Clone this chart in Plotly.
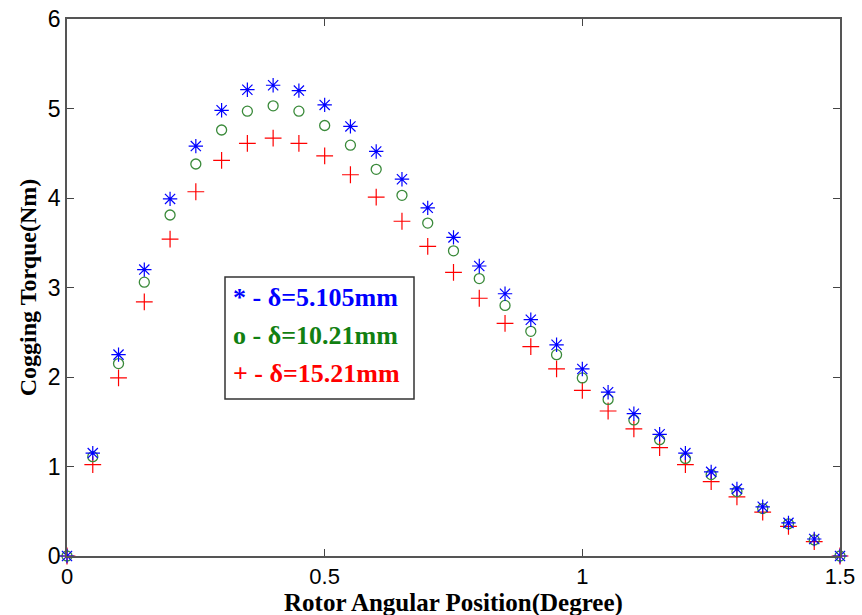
import plotly.graph_objects as go

x_pos = [0, 0.05, 0.1, 0.15, 0.2, 0.25, 0.3, 0.35, 0.4, 0.45, 0.5, 0.55, 0.6, 0.65, 0.7, 0.75,
         0.8, 0.85, 0.9, 0.95, 1.0, 1.05, 1.1, 1.15, 1.2, 1.25, 1.3, 1.35, 1.4, 1.45, 1.5]
torque_5105 = [0, 1.15, 2.25, 3.20, 3.99, 4.58, 4.98, 5.21, 5.26, 5.20, 5.04, 4.80, 4.52, 4.21, 3.89, 3.56,
               3.24, 2.93, 2.64, 2.36, 2.09, 1.83, 1.59, 1.36, 1.15, 0.94, 0.75, 0.55, 0.37, 0.19, 0]
torque_1021 = [0, 1.11, 2.15, 3.06, 3.81, 4.38, 4.76, 4.97, 5.03, 4.97, 4.81, 4.59, 4.32, 4.03, 3.72, 3.41,
               3.10, 2.80, 2.51, 2.25, 1.99, 1.75, 1.52, 1.30, 1.09, 0.91, 0.72, 0.53, 0.36, 0.18, 0]
torque_1521 = [0, 1.02, 1.99, 2.84, 3.54, 4.07, 4.42, 4.61, 4.67, 4.61, 4.47, 4.26, 4.01, 3.74, 3.46, 3.17,
               2.88, 2.60, 2.34, 2.09, 1.85, 1.62, 1.42, 1.21, 1.02, 0.83, 0.66, 0.49, 0.33, 0.16, 0]
x_ticks = [0, 0.5, 1, 1.5]
x_tick_labels = ["0", "0.5", "1", "1.5"]
y_ticks = [0, 1, 2, 3, 4, 5, 6]
y_tick_labels = ["0", "1", "2", "3", "4", "5", "6"]
legend_labels = ["* - δ=5.105mm", "o - δ=10.21mm", "+ - δ=15.21mm"]
legend_colors = ["#0000ff", "#118011", "#ff0000"]
x_title = "Rotor Angular Position(Degree)"
y_title = "Cogging Torque(Nm)"

fig = go.Figure()
fig.add_trace(go.Scatter(x=x_pos, y=torque_1521, mode="markers", cliponaxis=False,
                         marker=dict(symbol="cross-thin-open", size=12, color="red",
                                     line=dict(color="red", width=1.2))))
fig.add_trace(go.Scatter(x=x_pos, y=torque_1021, mode="markers", cliponaxis=False,
                         marker=dict(symbol="circle-open", size=10, color="#3a8a3a",
                                     line=dict(color="#3a8a3a", width=1.3))))
fig.add_trace(go.Scatter(x=x_pos, y=torque_5105, mode="markers", cliponaxis=False,
                         marker=dict(symbol="asterisk-open", size=12, color="blue",
                                     line=dict(color="blue", width=1.2))))

# helpers mapping pixel positions to paper coords (plot area l=67..840, t=19..556)
def px_x(p):
    return (p - 67) / 773.0

def px_y(p):
    return (556 - p) / 537.0

fig.add_shape(type="rect", xref="paper", yref="paper",
              x0=px_x(225), x1=px_x(414), y0=px_y(399), y1=px_y(277),
              line=dict(color="#333", width=1.5), fillcolor="white", layer="above")
for lbl, col, py in zip(legend_labels, legend_colors, [297, 335, 373]):
    fig.add_annotation(xref="paper", yref="paper", x=px_x(231), y=px_y(py),
                       xanchor="left", yanchor="middle", text=lbl, showarrow=False,
                       font=dict(family="Liberation Serif", size=26, color=col, weight="bold"))

fig.add_annotation(xref="paper", yref="paper", x=0.5, y=px_y(603), xanchor="center", yanchor="middle",
                   text=x_title, showarrow=False,
                   font=dict(family="Liberation Serif", size=25, color="black", weight="bold"))

fig.update_layout(
    width=862, height=615, margin=dict(l=67, r=22, t=19, b=59),
    paper_bgcolor="white", plot_bgcolor="white", showlegend=False,
    font=dict(family="Liberation Sans", color="black"),
)
fig.update_xaxes(range=[0, 1.5], tickvals=x_ticks, ticktext=x_tick_labels, ticks="inside", ticklen=7,
                 tickcolor="#444", showline=True, linecolor="#555", linewidth=1.5, mirror="ticks",
                 showgrid=False, zeroline=False, tickfont=dict(size=22), automargin=False)
fig.update_yaxes(range=[0, 6], tickvals=y_ticks, ticktext=y_tick_labels, ticks="inside", ticklen=7,
                 tickcolor="#444", showline=True, linecolor="#555", linewidth=1.5, mirror="ticks",
                 showgrid=False, zeroline=False, tickfont=dict(size=23), automargin=False,
                 title=dict(text=y_title, standoff=4,
                            font=dict(family="Liberation Serif", size=24, weight="bold")))

fig.write_html("out.html")
